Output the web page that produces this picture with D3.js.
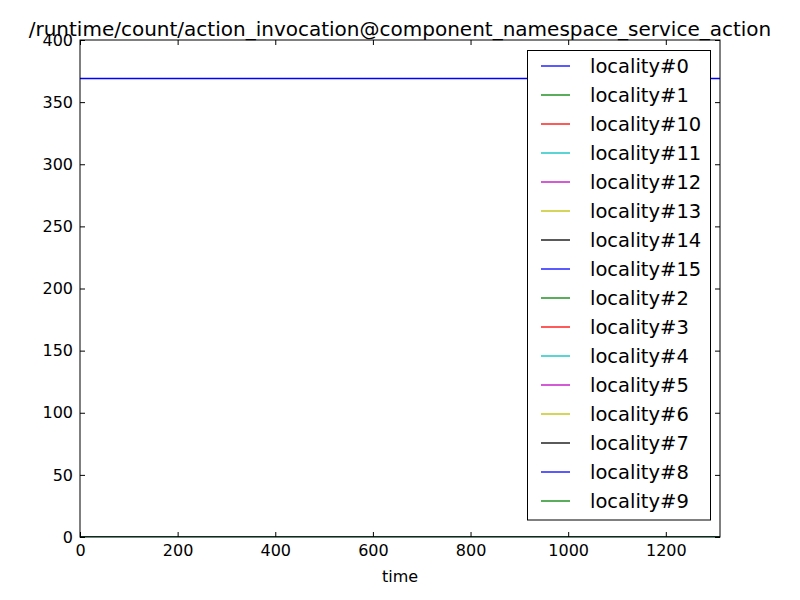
<!DOCTYPE html>
<html><head><meta charset="utf-8">
<script src="https://cdn.jsdelivr.net/npm/d3@7"></script>
<style>body{margin:0;background:#fff}svg{display:block}text{font-family:"DejaVu Sans",sans-serif}</style>
</head><body><svg id="c" width="800" height="600"></svg>
<script>
const seriesNames = ["locality#0","locality#1","locality#10","locality#11","locality#12","locality#13","locality#14","locality#15","locality#2","locality#3","locality#4","locality#5","locality#6","locality#7","locality#8","locality#9"];
const seriesColors = ["#0000ff","#008000","#ff0000","#00bfbf","#bf00bf","#bfbf00","#000000","#0000ff","#008000","#ff0000","#00bfbf","#bf00bf","#bfbf00","#000000","#0000ff","#008000"];
const times = [0, 1311];
const seriesValues = [
  [369, 369],[0,0],[0,0],[0,0],[0,0],[0,0],[0,0],[0,0],
  [0,0],[0,0],[0,0],[0,0],[0,0],[0,0],[0,0],[0,0]
];
const xTicks = [0,200,400,600,800,1000,1200];
const yTicks = [0,50,100,150,200,250,300,350,400];
const titleText = "/runtime/count/action_invocation@component_namespace_service_action";

const svg = d3.select("#c");
const L=80,R=720,T=40,B=537;
const x = d3.scaleLinear().domain([0,1311]).range([L,R]);
const y = d3.scaleLinear().domain([0,400]).range([B,T]);

const plot = svg.append("g");
plot.append("clipPath").attr("id","clip").append("rect").attr("x",L).attr("y",T).attr("width",R-L).attr("height",B-T);
const line = d3.line().x((d,i)=>x(times[i])).y(d=>y(d));
seriesValues.forEach((vals,k)=>{
  plot.append("path").attr("d",line(vals)).attr("fill","none")
    .attr("stroke",seriesColors[k]).attr("stroke-width",1.3).attr("clip-path","url(#clip)");
});

// axes
const tl = 5;
const fmt = d3.format("d");
const ax = svg.append("g");
const xb = d3.axisBottom(x).tickValues(xTicks).tickFormat(fmt).tickSizeInner(-tl).tickSizeOuter(0).tickPadding(8);
const xt = d3.axisTop(x).tickValues(xTicks).tickSizeInner(-tl).tickSizeOuter(0).tickFormat("");
const yl = d3.axisLeft(y).tickValues(yTicks).tickFormat(fmt).tickSizeInner(-tl).tickSizeOuter(0).tickPadding(7);
const yr = d3.axisRight(y).tickValues(yTicks).tickSizeInner(-tl).tickSizeOuter(0).tickFormat("");
[[xb,`translate(0,${B})`],[xt,`translate(0,${T})`],[yl,`translate(${L},0)`],[yr,`translate(${R},0)`]].forEach(([a,t])=>{
  const g = ax.append("g").attr("transform",t).call(a);
  g.select(".domain").remove();
  g.selectAll("line").attr("stroke","#000");
  g.selectAll("text").attr("font-size",16).attr("fill","#000").attr("font-family","DejaVu Sans");
});
svg.append("rect").attr("x",L).attr("y",T).attr("width",R-L).attr("height",B-T)
  .attr("fill","none").attr("stroke","#000").attr("stroke-width",1);

svg.append("text").attr("x",(L+R)/2).attr("y",35.5).attr("text-anchor","middle")
  .attr("font-size",20).text(titleText);
svg.append("text").attr("x",(L+R)/2).attr("y",582).attr("text-anchor","middle")
  .attr("font-size",16).text("time");

// legend
const lg = svg.append("g");
lg.append("rect").attr("x",527.5).attr("y",50.5).attr("width",183).attr("height",469.5)
  .attr("fill","#fff").attr("stroke","#000").attr("stroke-width",1);
seriesNames.forEach((n,i)=>{
  const yy = 66 + i*29;
  lg.append("line").attr("x1",541).attr("x2",570).attr("y1",yy).attr("y2",yy)
    .attr("stroke",seriesColors[i]).attr("stroke-width",1.3);
  lg.append("text").attr("x",590).attr("y",yy+7).attr("font-size",19.5).text(n);
});
</script></body></html>
